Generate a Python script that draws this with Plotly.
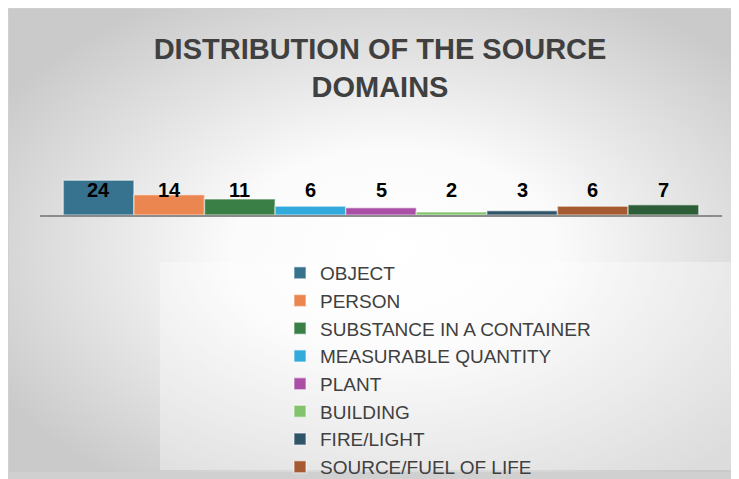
import base64
import plotly.graph_objects as go

# ---- data ----
categories = ["OBJECT", "PERSON", "SUBSTANCE IN A CONTAINER", "MEASURABLE QUANTITY",
              "PLANT", "BUILDING", "FIRE/LIGHT", "SOURCE/FUEL OF LIFE", "OTHER"]
values = [24, 14, 11, 6, 5, 2, 3, 6, 7]
in_legend = [True, True, True, True, True, True, True, True, False]
colors = ["#37738F", "#EC8651", "#3A8046", "#33AADC", "#AB4EA6",
          "#82C46B", "#2F5468", "#A65A32", "#2E5E37"]

# page body has an 8px margin, so the figure is drawn smaller and offset
OFF = 8
W, H = 739 - OFF, 479 - OFF
L, T, PW, PH = 40 - OFF, 142 - OFF, 682, 73
R, B = W - L - PW, H - T - PH


def px(x):  # reference screen x -> paper fraction
    return (x - OFF - L) / PW


def py(y):  # reference screen y -> paper fraction
    return (T + PH - (y - OFF)) / PH


fig = go.Figure()
for i, (c, v, show, col) in enumerate(zip(categories, values, in_legend, colors)):
    fig.add_trace(go.Bar(
        x=[i], y=[v], name=c, width=1, showlegend=show,
        marker=dict(color=col, line=dict(color="rgba(255,255,255,0.45)", width=1.5)),
        hoverinfo="name+y",
    ))

annotations = [
    dict(x=i, y=17.1, xref="x", yref="y", text=str(v), showarrow=False,
         font=dict(family="Liberation Sans, Arial", size=20, color="#000000", weight="bold"))
    for i, v in enumerate(values)
]

svg = (
    '<svg xmlns="http://www.w3.org/2000/svg" width="740" height="463" preserveAspectRatio="none">'
    '<defs><radialGradient id="g" cx="52%" cy="52%" r="62%">'
    '<stop offset="0" stop-color="#FFFFFF"/>'
    '<stop offset="0.35" stop-color="#FBFBFB"/>'
    '<stop offset="1" stop-color="#CACACA"/>'
    '</radialGradient></defs>'
    '<rect x="0" y="0" width="740" height="463" fill="url(#g)"/></svg>'
)
src = "data:image/svg+xml;base64," + base64.b64encode(svg.encode()).decode()

fig.update_layout(
    width=W, height=H,
    margin=dict(l=L, r=R, t=T, b=B, autoexpand=False),
    paper_bgcolor="#D0D0D0",
    plot_bgcolor="rgba(0,0,0,0)",
    barmode="overlay",
    title=dict(
        text="DISTRIBUTION OF THE SOURCE<br>DOMAINS",
        x=(380 - OFF) / W, xanchor="center", xref="container",
        y=1 - 51 / H, yanchor="middle", yref="container",
        font=dict(family="Liberation Sans, Arial", size=29, color="#404040", weight="bold"),
    ),
    xaxis=dict(range=[-0.83, 8.83], showticklabels=False, ticks="", showgrid=False,
               zeroline=False, showline=True, linecolor="#8C8C8C", linewidth=1.5,
               layer="below traces", fixedrange=True),
    yaxis=dict(range=[0, 50.3], tickvals=[50], showticklabels=False, ticks="",
               showgrid=True, gridcolor="#DADADA", gridwidth=1, zeroline=False,
               showline=False, fixedrange=True),
    legend=dict(
        x=px(280), xanchor="left", xref="paper",
        y=py(254), yanchor="top", yref="paper",
        bgcolor="rgba(0,0,0,0)",
        font=dict(family="Liberation Sans, Arial", size=19, color="#404040"),
        traceorder="normal",
    ),
    annotations=annotations,
    images=[dict(source=src, xref="paper", yref="paper",
                 x=px(9), y=py(9), sizex=740 / PW, sizey=463 / PH,
                 xanchor="left", yanchor="top", sizing="stretch", layer="below")],
    shapes=[
        dict(type="rect", xref="paper", yref="paper", x0=px(160), x1=px(749),
             y0=py(470), y1=py(262), fillcolor="rgba(255,255,255,0.35)",
             line=dict(width=0), layer="below"),
    ],
    showlegend=True,
)

fig.write_html("out.html")
